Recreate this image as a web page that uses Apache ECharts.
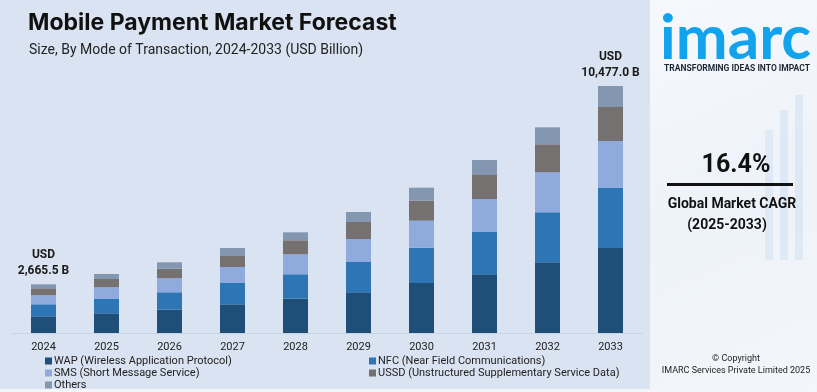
<!DOCTYPE html>
<html>
<head>
<meta charset="utf-8">
<script src="https://cdn.jsdelivr.net/npm/echarts@6/dist/echarts.min.js"></script>
<style>html,body{margin:0;padding:0;}#c{width:817px;height:392px;}</style>
</head>
<body>
<div id="c"></div>
<script>
const years = ['2024','2025','2026','2027','2028','2029','2030','2031','2032','2033'];
const seriesNames = ['WAP (Wireless Application Protocol)','NFC (Near Field Communications)','SMS (Short Message Service)','USSD (Unstructured Supplementary Service Data)','Others'];
const wap = [708, 835, 992, 1217, 1459, 1726, 2120, 2489, 2998, 3604];
const nfc = [509, 606, 734, 903, 1030, 1285, 1497, 1794, 2120, 2544];
const sms = [382, 496, 594, 678, 848, 975, 1145, 1399, 1696, 1993];
const ussd = [297, 352, 411, 466, 594, 721, 848, 1018, 1187, 1442];
const others = [170, 212, 267, 339, 339, 424, 551, 636, 721, 890];
const topLabels = ['USD\n2,665.5 B','','','','','','','','','USD\n10,477.0 B'];
const colors = ['#1f4e79','#2e75b6','#8faadc','#767171','#8497b0'];

const chart = echarts.init(document.getElementById('c'), null, {renderer:'canvas'});
const dataSets = [wap, nfc, sms, ussd, others];
const series = dataSets.map((d, i) => ({
  name: seriesNames[i],
  type: 'bar',
  stack: 'total',
  barWidth: 25,
  data: d,
  itemStyle: {color: colors[i]},
  label: i === 4 ? {
    show: true, position: 'top', distance: 5,
    formatter: p => topLabels[p.dataIndex],
    fontFamily: 'Roboto', fontWeight: 'bold', fontSize: 12, color: '#1a1a1a', lineHeight: 16
  } : {show: false}
}));

const legendCommon = {
  orient: 'vertical', itemGap: 0, padding: 0,
  itemWidth: 7, itemHeight: 7, icon: 'rect',
  textStyle: {fontFamily: 'Roboto', fontSize: 11, color: '#222', lineHeight: 12, padding: [0,0,0,-3]}
};

chart.setOption({
  backgroundColor: '#dae3f1',
  animation: false,
  textStyle: {fontFamily: 'Roboto'},
  title: [{
    text: 'Mobile Payment Market Forecast',
    left: 23, top: 7,
    textStyle: {fontFamily: 'Inter', fontWeight: 'bold', fontSize: 23, color: '#111'}
  },{
    text: 'Size, By Mode of Transaction, 2024-2033 (USD Billion)',
    left: 24, top: 38,
    textStyle: {fontFamily: 'Roboto', fontWeight: 'normal', fontSize: 14, color: '#222'}
  }],
  legend: [Object.assign({
    data: [seriesNames[0], seriesNames[2], seriesNames[4]],
    left: 45, top: 355
  }, legendCommon), Object.assign({
    data: [seriesNames[1], seriesNames[3]],
    left: 369, top: 355
  }, legendCommon)],
  grid: {left: 12, width: 630, top: 50, height: 283, containLabel: false},
  xAxis: {
    type: 'category', data: years,
    axisLine: {show: true, lineStyle: {color: '#c9d2e0', width: 1}},
    axisTick: {show: false},
    axisLabel: {fontFamily: 'Roboto', fontSize: 11, color: '#222', margin: 9}
  },
  yAxis: {
    type: 'value', min: 0, max: 12000, show: false,
    splitLine: {show: false}
  },
  series: series,
  graphic: [
    {type: 'rect', shape: {x: 0, y: 389, width: 650, height: 3}, style: {fill: '#f4f6fa'}, z: 0},
    {type: 'rect', shape: {x: 650, y: 0, width: 167, height: 392},
     style: {fill: new echarts.graphic.LinearGradient(0,0,1,1,[{offset:0,color:'#f6f8fc'},{offset:0.5,color:'#eef3f9'},{offset:1,color:'#f3f6fa'}])}, z: 0},
    {type: 'rect', shape: {x: 780, y: 110, width: 8, height: 150}, style: {fill: 'rgba(170,200,230,0.25)'}, z: 1},
    {type: 'rect', shape: {x: 795, y: 95, width: 8, height: 165}, style: {fill: 'rgba(170,200,230,0.25)'}, z: 1},
    {type: 'rect', shape: {x: 765, y: 130, width: 8, height: 130}, style: {fill: 'rgba(170,200,230,0.22)'}, z: 1},
    {type: 'text', left: 660, top: 8, z: 5,
     style: {text: 'imarc', fontFamily: 'Lato', fontWeight: 'bold', fontSize: 62, fill: '#12a3ec'}},
    {type: 'text', x: 737, y: 69, z: 5,
     style: {text: 'TRANSFORMING IDEAS INTO IMPACT', fontFamily: 'Roboto', fontWeight: 'bold', fontSize: 8.5, fill: '#1d2733', align: 'center', verticalAlign: 'middle'}},
    {type: 'text', x: 736, y: 166, z: 5,
     style: {text: '16.4%', fontFamily: 'Roboto', fontWeight: 'bold', fontSize: 25, fill: '#111', align: 'center', verticalAlign: 'middle'}},
    {type: 'rect', shape: {x: 667, y: 183, width: 126, height: 3}, style: {fill: '#111'}, z: 5},
    {type: 'text', x: 732, y: 204, z: 5,
     style: {text: 'Global Market CAGR', fontFamily: 'Roboto', fontWeight: 'bold', fontSize: 14, fill: '#111', align: 'center', verticalAlign: 'middle'}},
    {type: 'text', x: 727, y: 225, z: 5,
     style: {text: '(2025-2033)', fontFamily: 'Roboto', fontWeight: 'bold', fontSize: 14, fill: '#111', align: 'center', verticalAlign: 'middle'}},
    {type: 'text', x: 736, y: 359, z: 5,
     style: {text: '© Copyright', fontFamily: 'Roboto', fontSize: 9, fill: '#222', align: 'center', verticalAlign: 'middle'}},
    {type: 'text', x: 736, y: 371, z: 5,
     style: {text: 'IMARC Services Private Limited 2025', fontFamily: 'Roboto', fontSize: 9, fill: '#222', align: 'center', verticalAlign: 'middle'}}
  ]
});
</script>
</body>
</html>
